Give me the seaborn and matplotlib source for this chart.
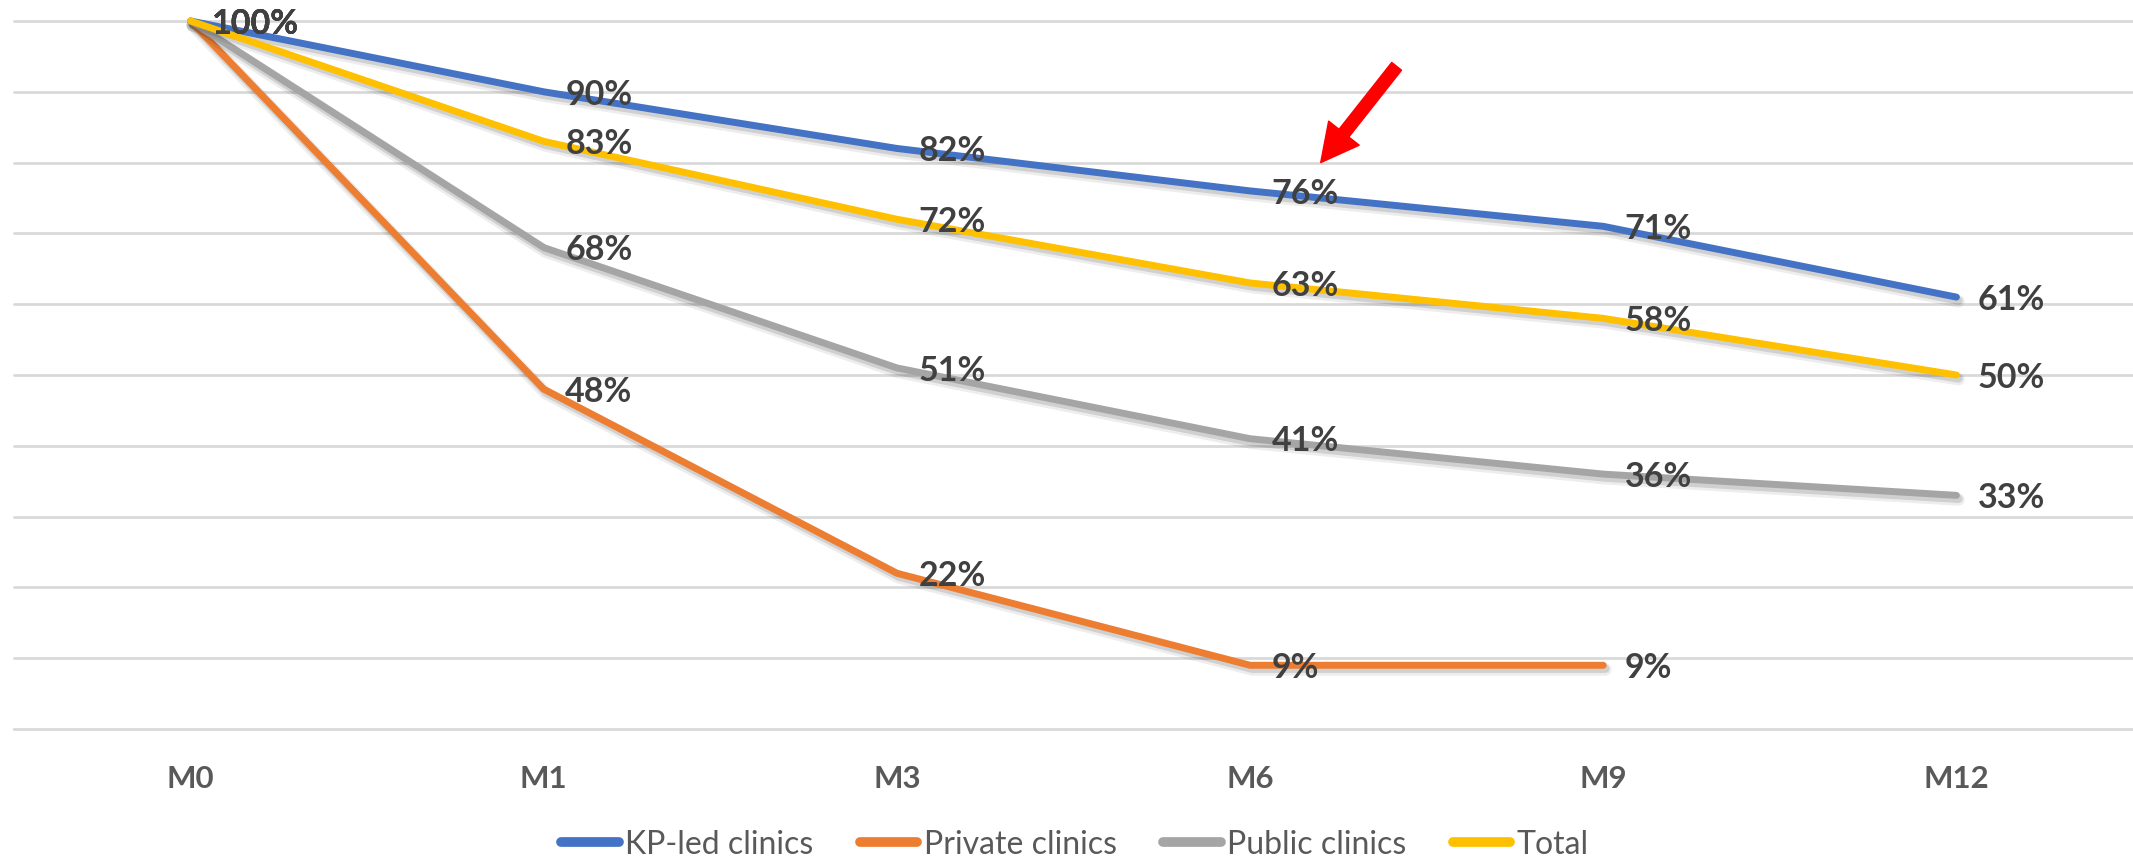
import pandas as pd
import numpy as np
import matplotlib
matplotlib.use('Agg')
import matplotlib.pyplot as plt
import matplotlib.patheffects as pe
import seaborn as sns

# data
months = ['M0', 'M1', 'M3', 'M6', 'M9', 'M12']
kp_led = [100, 90, 82, 76, 71, 61]
private = [100, 48, 22, 9, 9]          # no value at M12
public = [100, 68, 51, 41, 36, 33]
total = [100, 83, 72, 63, 58, 50]

series = {
    'KP-led clinics': kp_led,
    'Private clinics': private,
    'Public clinics': public,
    'Total': total,
}
colors = ['#4472C4', '#ED7D31', '#A5A5A5', '#FFC000']

rows = []
for name, vals in series.items():
    for m, v in zip(months, vals):
        rows.append({'month': m, 'value': v, 'group': name})
df = pd.DataFrame(rows)

sns.set_style('white')
plt.rcParams['font.family'] = ['Lato', 'DejaVu Sans']

fig = plt.figure(figsize=(21.33, 8.61), dpi=100)
ax = fig.add_axes([14 / 2133, 1 - 729 / 861, 1 - 14 / 2133, (729 - 21) / 861])

lw = 5.0
sns.lineplot(data=df, x='month', y='value', hue='group', palette=colors,
             estimator=None, sort=False, linewidth=lw, ax=ax, legend=True)

# soft drop shadow like the Excel original
shadow = [pe.SimpleLineShadow(offset=(1.5, -3), shadow_color='black', alpha=0.07, linewidth=lw + 4),
          pe.SimpleLineShadow(offset=(1.5, -2.5), shadow_color='black', alpha=0.12, linewidth=lw + 1),
          pe.Normal()]
for line in ax.lines:
    line.set_solid_capstyle('round')
    line.set_solid_joinstyle('round')
    line.set_clip_on(False)
    line.set_path_effects(shadow)

# data labels right of each point
for name, vals in series.items():
    for i, v in enumerate(vals):
        ax.annotate(f'{v}%', (i, v), xytext=(15.5, -2), textcoords='offset points',
                    ha='left', va='center', fontsize=24.5, fontweight='bold',
                    color='#404040')

# red arrow pointing at the KP-led M6 value
ax.annotate('', xy=(3.2, 80), xytext=(3.415, 93.6),
            arrowprops=dict(arrowstyle='simple,head_length=1.35,head_width=1.4,tail_width=0.45',
                            color='#FF0000', mutation_scale=20, shrinkA=0, shrinkB=0))

ax.set_xlim(-0.5, 5.5)
ax.set_ylim(0, 100)
ax.set_yticks(np.arange(10, 101, 10))
ax.set_yticklabels([])
ax.yaxis.grid(True, color='#D9D9D9', linewidth=2)
for gl in ax.get_ygridlines():
    gl.set_clip_on(False)
ax.xaxis.grid(False)
ax.set_xlabel('')
ax.set_ylabel('')
for s in ['top', 'left', 'right']:
    ax.spines[s].set_visible(False)
ax.spines['bottom'].set_color('#D9D9D9')
ax.spines['bottom'].set_linewidth(2)
ax.tick_params(axis='x', length=0, pad=26, labelsize=22.5, labelcolor='#595959')
ax.tick_params(axis='y', length=0)
for lab in ax.get_xticklabels():
    lab.set_fontweight('bold')

handles, labels = ax.get_legend_handles_labels()
ax.get_legend().remove()
for h in handles:
    h.set_linewidth(7)
    h.set_solid_capstyle('round')
    h.set_path_effects([])
fig.legend(handles, labels, loc='center', bbox_to_anchor=(0.504, 0.019), ncol=4,
           frameon=False, fontsize=23, labelcolor='#595959', handlelength=1.8,
           handletextpad=0.2, columnspacing=1.45)

fig.savefig('out.png', dpi=100)
